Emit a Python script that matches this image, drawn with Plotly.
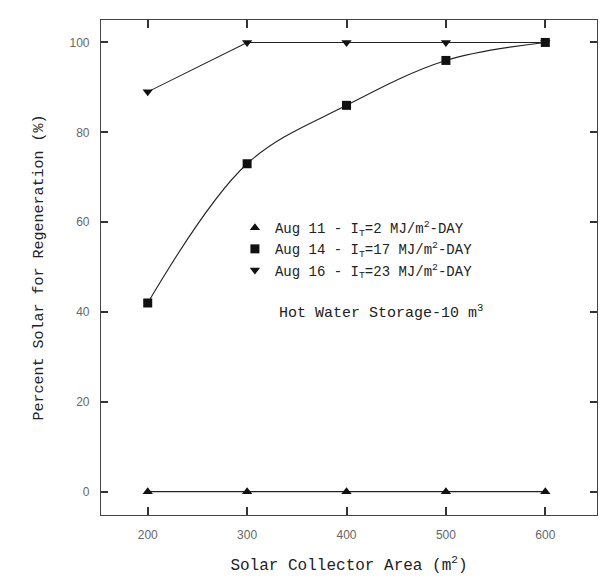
import plotly.graph_objects as go

area = [200, 300, 400, 500, 600]
aug11 = [0, 0, 0, 0, 0]
aug14 = [42, 73, 86, 96, 100]
aug16 = [89, 100, 100, 100, 100]
names = ["Aug 11 - I<sub>T</sub>=2 MJ/m<sup>2</sup>-DAY",
         "Aug 14 - I<sub>T</sub>=17 MJ/m<sup>2</sup>-DAY",
         "Aug 16 - I<sub>T</sub>=23 MJ/m<sup>2</sup>-DAY"]
xticks = [200, 300, 400, 500, 600]
yticks = [0, 20, 40, 60, 80, 100]
XR = [153, 652]
YR = [-5.2, 105]

FONT = "Liberation Mono, Courier New, monospace"
fig = go.Figure()
series = [(aug11, "triangle-up", "linear"), (aug14, "square", "spline"), (aug16, "triangle-down", "linear")]
for (vals, sym, shape), nm in zip(series, names):
    fig.add_trace(go.Scatter(x=area, y=vals, mode="lines+markers", showlegend=False,
                             line=dict(color="#222", width=1.1, shape=shape),
                             marker=dict(symbol=sym, size=9, color="#111")))
for (vals, sym, shape), nm in zip(series, names):
    fig.add_trace(go.Scatter(x=[None], y=[None], mode="markers", name=nm,
                             marker=dict(symbol=sym, size=9, color="#111")))

fig.add_annotation(x=0.565, y=0.41, xref="paper", yref="paper",
                   text="Hot Water Storage-10 m<sup>3</sup>", showarrow=False,
                   font=dict(family=FONT, size=15, color="#222"))

fig.update_layout(
    template="none",
    width=603, height=582, paper_bgcolor="white", plot_bgcolor="white",
    margin=dict(l=101, r=6, t=20, b=67),
    font=dict(family=FONT, color="#222"),
    legend=dict(x=0.27, y=0.612, xanchor="left", yanchor="top", bgcolor="rgba(0,0,0,0)",
                font=dict(family=FONT, size=14, color="#222"), tracegroupgap=0, itemwidth=30),
    xaxis=dict(range=XR, tickmode="array", tickvals=xticks, ticks="inside", ticklen=8, tickcolor="#333", tickwidth=1.5,
               showline=True, linecolor="#444", linewidth=1.2, mirror="ticks", showgrid=False, zeroline=False,
               ticklabelstandoff=8,
               tickfont=dict(family="Liberation Sans, Arial", size=12, color="#666"),
               title=dict(text="Solar Collector Area (m<sup>2</sup>)", font=dict(family=FONT, size=16), standoff=18)),
    yaxis=dict(range=YR, tickmode="array", tickvals=yticks, ticks="inside", ticklen=7, tickcolor="#333", tickwidth=1.5,
               showline=True, linecolor="#444", linewidth=1.2, mirror="ticks", showgrid=False, zeroline=False,
               ticklabelstandoff=8,
               tickfont=dict(family="Liberation Sans, Arial", size=12, color="#666"),
               title=dict(text="Percent Solar for Regeneration (%)", font=dict(family=FONT, size=15), standoff=22)),
)
fig.write_html("out.html")
